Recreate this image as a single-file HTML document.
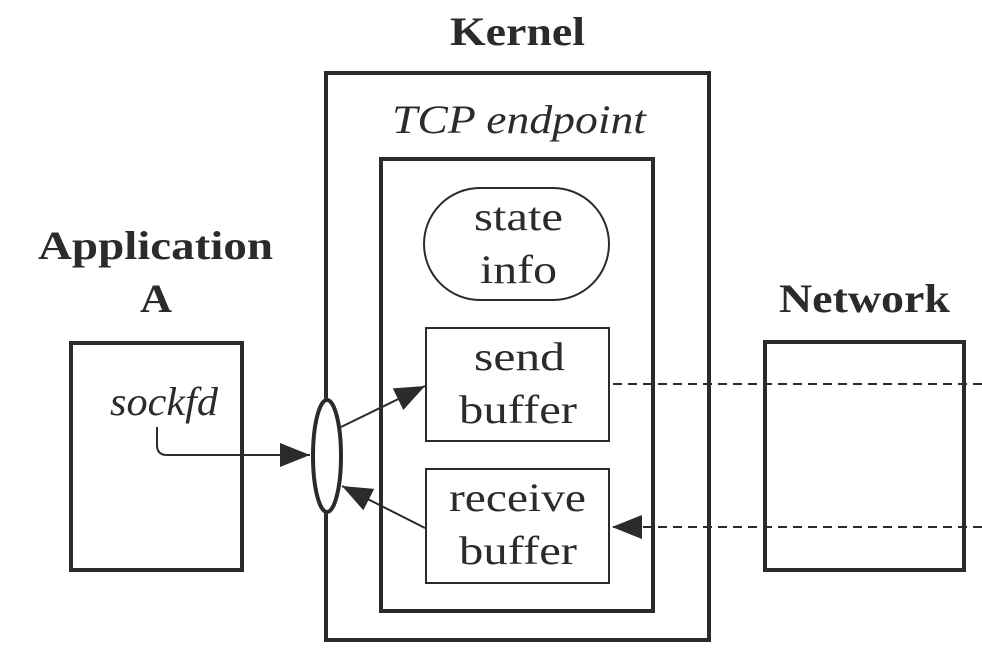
<!DOCTYPE html>
<html><head><style>body{margin:0;background:#fff}</style></head><body>
<svg width="982" height="666" viewBox="0 0 982 666" xmlns="http://www.w3.org/2000/svg" font-family="Liberation Serif, serif" fill="#2b2b2b">
<defs>
<marker id="b" viewBox="0 0 10 8" markerWidth="32" markerHeight="24" refX="10" refY="4" orient="auto" markerUnits="userSpaceOnUse"><path d="M0,0 L10,4 L0,8z" fill="#2b2b2b"/></marker></defs>
<g fill="none" stroke="#2b2b2b">
<rect x="326" y="73" width="383" height="567" stroke-width="4"/>
<rect x="381" y="159" width="272" height="452" stroke-width="4"/>
<rect x="71" y="343" width="171" height="227" stroke-width="4"/>
<rect x="765" y="342" width="199" height="228" stroke-width="4"/>
<rect x="424" y="188" width="185" height="112" rx="56" stroke-width="2"/>
<rect x="426" y="328" width="183" height="113" stroke-width="2"/>
<rect x="426" y="469" width="183" height="114" stroke-width="2"/>
<ellipse cx="327" cy="456" rx="14" ry="56" fill="#fff" stroke-width="4"/>
<line x1="613" y1="384" x2="982" y2="384" stroke-width="2" stroke-dasharray="9,6"/>
<line x1="982" y1="527" x2="612" y2="527" stroke-width="2" stroke-dasharray="9,6" marker-end="url(#b)"/>
<path d="M157 427 V445 Q157 455 167 455 H310" stroke-width="2" marker-end="url(#b)"/>
<line x1="341" y1="427" x2="425" y2="386" stroke-width="2" marker-end="url(#b)"/>
<line x1="425" y1="528" x2="342" y2="486" stroke-width="2" marker-end="url(#b)"/>
</g>
<g font-weight="bold" font-size="40" lengthAdjust="spacingAndGlyphs">
<text x="450" y="45" textLength="135" lengthAdjust="spacingAndGlyphs">Kernel</text>
<text x="38" y="259" textLength="235" lengthAdjust="spacingAndGlyphs">Application</text>
<text x="140" y="312" textLength="32" lengthAdjust="spacingAndGlyphs">A</text>
<text x="779" y="312" textLength="171" lengthAdjust="spacingAndGlyphs">Network</text>
</g>
<g font-size="40">
<text x="392" y="133" font-style="italic" textLength="254" lengthAdjust="spacingAndGlyphs">TCP endpoint</text>
<text x="474" y="230" textLength="89" lengthAdjust="spacingAndGlyphs">state</text>
<text x="480" y="283" textLength="77" lengthAdjust="spacingAndGlyphs">info</text>
<text x="474" y="370" textLength="91" lengthAdjust="spacingAndGlyphs">send</text>
<text x="459" y="423" textLength="118" lengthAdjust="spacingAndGlyphs">buffer</text>
<text x="449" y="511" textLength="137" lengthAdjust="spacingAndGlyphs">receive</text>
<text x="459" y="564" textLength="118" lengthAdjust="spacingAndGlyphs">buffer</text>
<text x="110" y="415" font-style="italic" textLength="108" lengthAdjust="spacingAndGlyphs">sockfd</text>
</g>
</svg>
</body></html>
